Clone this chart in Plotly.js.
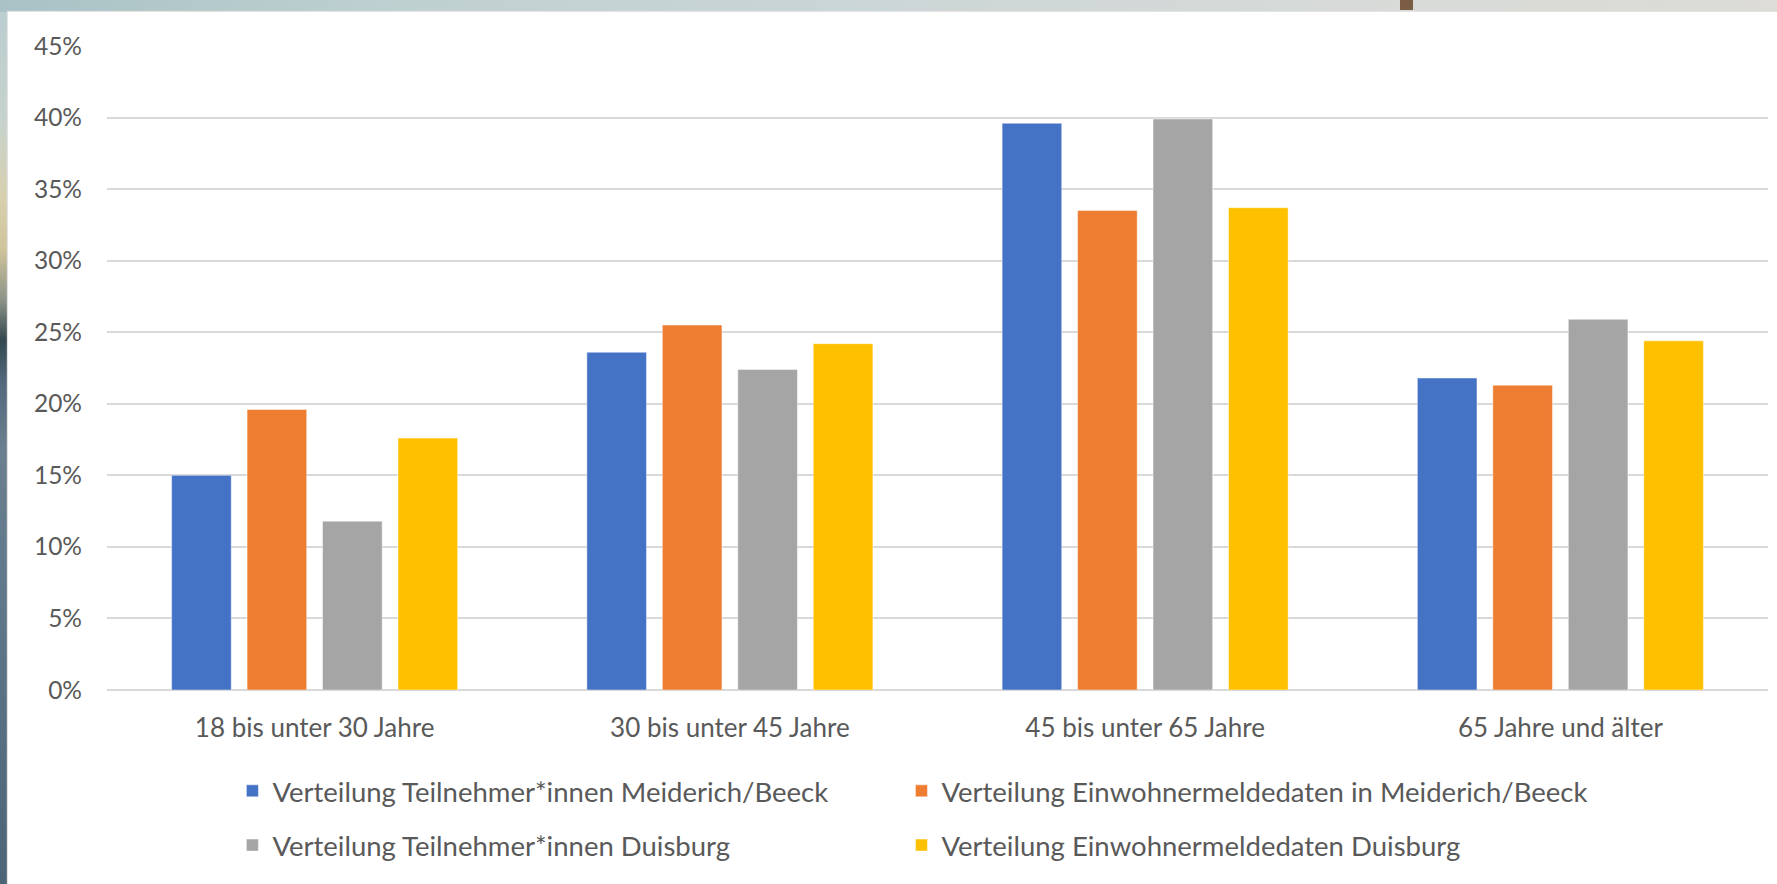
<!DOCTYPE html>
<html>
<head>
<meta charset="utf-8">
<script src="https://cdn.plot.ly/plotly-3.0.1.min.js"></script>
<style>
  html, body { margin: 0; padding: 0; width: 1777px; height: 884px; overflow: hidden; }
  body {
    position: relative;
    background: linear-gradient(to bottom, #b9cdd1 0px, #c6d2cc 120px, #d8d0ae 200px, #cfc39a 250px, #8c9488 300px, #33484f 340px, #52687a 380px, #6a8091 450px, #5d7486 650px, #4d6476 884px);
  }
  #topstrip { position: absolute; left: 0; top: 0; width: 1777px; height: 12px;
    background: linear-gradient(to right, #a8c2c5 0px, #bfd0d1 400px, #ccd6d6 900px, #d6dad8 1300px, #dddcd6 1777px); }
  #brown { position: absolute; left: 1400px; top: 0; width: 13px; height: 10px; background: #7b5d44; }
  #chart { position: absolute; left: 8px; top: 12px; width: 1769px; height: 872px; background: #ffffff;
    box-shadow: 0 0 1px 1px #e2e2e2; }
</style>
</head>
<body>
<div id="topstrip"></div>
<div id="brown"></div>
<div id="chart"></div>
<script>
const categories = ["18 bis unter 30 Jahre", "30 bis unter 45 Jahre", "45 bis unter 65 Jahre", "65 Jahre und älter"];
const seriesNames = [
  "Verteilung Teilnehmer*innen Meiderich/Beeck",
  "Verteilung Einwohnermeldedaten in Meiderich/Beeck",
  "Verteilung Teilnehmer*innen Duisburg",
  "Verteilung Einwohnermeldedaten Duisburg"
];
const teilnehmerMeiderich = [15.0, 23.6, 39.6, 21.8];
const einwohnerMeiderich  = [19.6, 25.5, 33.5, 21.3];
const teilnehmerDuisburg  = [11.8, 22.4, 39.9, 25.9];
const einwohnerDuisburg   = [17.6, 24.2, 33.7, 24.4];
const colors = ["#4472C4", "#ED7D31", "#A5A5A5", "#FFC000"];
const yTickVals = [0, 5, 10, 15, 20, 25, 30, 35, 40, 45];

const seriesValues = [teilnehmerMeiderich, einwohnerMeiderich, teilnehmerDuisburg, einwohnerDuisburg];
const legendIds = ["legend", "legend2", "legend3", "legend4"];

const textColor = "#595959";
const fontFamily = "Lato, 'Open Sans', sans-serif";

const traces = seriesValues.map((vals, i) => ({
  type: "bar",
  name: seriesNames[i],
  x: categories,
  y: vals,
  legend: legendIds[i],
  marker: { color: colors[i], line: { color: "rgba(255,255,255,0.45)", width: 1 } },
  hoverinfo: "name+y"
}));

const legendCommon = {
  orientation: "h",
  xanchor: "left",
  yanchor: "middle",
  font: { family: fontFamily, size: 27.5, color: textColor },
  bgcolor: "rgba(0,0,0,0)",
  borderwidth: 0,
  traceorder: "normal"
};

const layout = {
  width: 1769,
  height: 872,
  margin: { l: 99, r: 9, t: 34, b: 194, pad: 0 },
  paper_bgcolor: "#ffffff",
  plot_bgcolor: "#ffffff",
  font: { family: fontFamily, color: textColor },
  barmode: "group",
  bargap: 0.273,
  bargroupgap: 0.21,
  showlegend: true,
  xaxis: {
    type: "category",
    showgrid: false,
    showline: false,
    zeroline: false,
    ticks: "",
    tickfont: { family: fontFamily, size: 26, color: textColor },
    ticklabelstandoff: 20
  },
  yaxis: {
    range: [0, 45],
    tickvals: yTickVals,
    ticktext: yTickVals.map(v => v + "%"),
    showgrid: true,
    gridcolor: "#d9d9d9",
    gridwidth: 2,
    zeroline: true,
    zerolinecolor: "#d9d9d9",
    zerolinewidth: 2,
    showline: false,
    ticks: "",
    tickfont: { family: fontFamily, size: 24.5, color: textColor },
    ticklabelstandoff: 24
  },
  legend:  Object.assign({}, legendCommon, { x: 0.0755, y: -0.1568 }),
  legend2: Object.assign({}, legendCommon, { x: 0.4783, y: -0.1568 }),
  legend3: Object.assign({}, legendCommon, { x: 0.0755, y: -0.241 }),
  legend4: Object.assign({}, legendCommon, { x: 0.4783, y: -0.241 })
};

Plotly.newPlot("chart", traces, layout, { displayModeBar: false, staticPlot: true });
</script>
</body>
</html>
